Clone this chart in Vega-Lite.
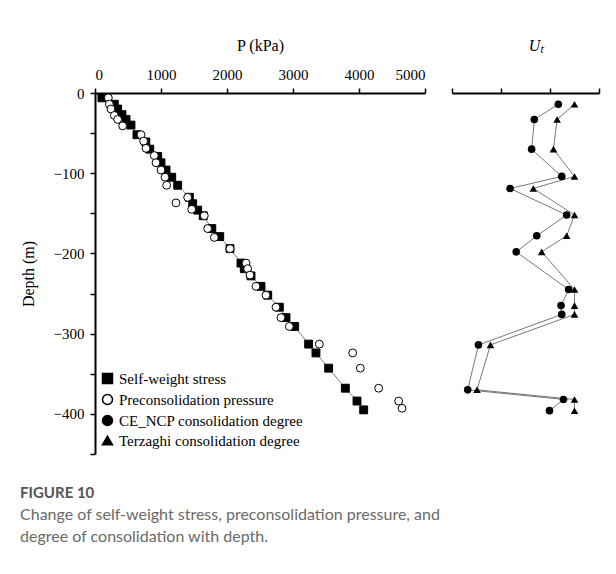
{
  "$schema": "https://vega.github.io/schema/vega-lite/v6.json",
  "background": "white",
  "padding": {"left": 20, "top": 37, "right": 5, "bottom": 10},
  "config": {
    "view": {"stroke": null},
    "axis": {
      "labelFont": "Liberation Serif", "labelFontSize": 15, "labelColor": "black",
      "titleFont": "Liberation Serif", "titleFontSize": 16, "titleFontWeight": "normal", "titleColor": "black",
      "domainColor": "black", "domainWidth": 2, "tickColor": "black", "tickWidth": 1.5, "grid": false
    },
    "legend": {
      "labelFont": "Liberation Serif", "labelFontSize": 15, "labelColor": "black", "labelLimit": 400
    }
  },
  "title": {
    "text": "FIGURE 10",
    "subtitle": ["Change of self-weight stress, preconsolidation pressure, and", "degree of consolidation with depth."],
    "orient": "bottom", "anchor": "start", "offset": 24,
    "font": "Lato", "fontSize": 15, "fontWeight": "bold", "color": "#555555",
    "subtitleFont": "Lato", "subtitleFontSize": 16, "subtitleColor": "#6a6a6a", "subtitleLineHeight": 22, "subtitlePadding": 6
  },
  "data": {"values": [
      {"series": "Self-weight stress", "depth": -6, "P": 105},
      {"series": "Self-weight stress", "depth": -14, "P": 292},
      {"series": "Self-weight stress", "depth": -20, "P": 343},
      {"series": "Self-weight stress", "depth": -27, "P": 409},
      {"series": "Self-weight stress", "depth": -33, "P": 470},
      {"series": "Self-weight stress", "depth": -40, "P": 545},
      {"series": "Self-weight stress", "depth": -52, "P": 636},
      {"series": "Self-weight stress", "depth": -61, "P": 770},
      {"series": "Self-weight stress", "depth": -70, "P": 830},
      {"series": "Self-weight stress", "depth": -79, "P": 950},
      {"series": "Self-weight stress", "depth": -87, "P": 1000},
      {"series": "Self-weight stress", "depth": -96, "P": 1076},
      {"series": "Self-weight stress", "depth": -105, "P": 1162},
      {"series": "Self-weight stress", "depth": -115, "P": 1253},
      {"series": "Self-weight stress", "depth": -130, "P": 1430},
      {"series": "Self-weight stress", "depth": -138, "P": 1480},
      {"series": "Self-weight stress", "depth": -146, "P": 1556},
      {"series": "Self-weight stress", "depth": -153, "P": 1640},
      {"series": "Self-weight stress", "depth": -169, "P": 1770},
      {"series": "Self-weight stress", "depth": -179, "P": 1890},
      {"series": "Self-weight stress", "depth": -194, "P": 2045},
      {"series": "Self-weight stress", "depth": -212, "P": 2212},
      {"series": "Self-weight stress", "depth": -219, "P": 2262},
      {"series": "Self-weight stress", "depth": -228, "P": 2364},
      {"series": "Self-weight stress", "depth": -241, "P": 2515},
      {"series": "Self-weight stress", "depth": -252, "P": 2617},
      {"series": "Self-weight stress", "depth": -267, "P": 2793},
      {"series": "Self-weight stress", "depth": -280, "P": 2894},
      {"series": "Self-weight stress", "depth": -291, "P": 3025},
      {"series": "Self-weight stress", "depth": -313, "P": 3237},
      {"series": "Self-weight stress", "depth": -324, "P": 3348},
      {"series": "Self-weight stress", "depth": -343, "P": 3540},
      {"series": "Self-weight stress", "depth": -368, "P": 3793},
      {"series": "Self-weight stress", "depth": -384, "P": 3970},
      {"series": "Self-weight stress", "depth": -395, "P": 4071},
      {"series": "Preconsolidation pressure", "depth": -6, "P": 202},
      {"series": "Preconsolidation pressure", "depth": -14, "P": 217},
      {"series": "Preconsolidation pressure", "depth": -20, "P": 242},
      {"series": "Preconsolidation pressure", "depth": -28, "P": 293},
      {"series": "Preconsolidation pressure", "depth": -33, "P": 343},
      {"series": "Preconsolidation pressure", "depth": -41, "P": 419},
      {"series": "Preconsolidation pressure", "depth": -52, "P": 697},
      {"series": "Preconsolidation pressure", "depth": -60, "P": 737},
      {"series": "Preconsolidation pressure", "depth": -69, "P": 773},
      {"series": "Preconsolidation pressure", "depth": -78, "P": 899},
      {"series": "Preconsolidation pressure", "depth": -87, "P": 924},
      {"series": "Preconsolidation pressure", "depth": -96, "P": 1000},
      {"series": "Preconsolidation pressure", "depth": -105, "P": 1061},
      {"series": "Preconsolidation pressure", "depth": -115, "P": 1086},
      {"series": "Preconsolidation pressure", "depth": -130, "P": 1404},
      {"series": "Preconsolidation pressure", "depth": -137, "P": 1227},
      {"series": "Preconsolidation pressure", "depth": -145, "P": 1465},
      {"series": "Preconsolidation pressure", "depth": -153, "P": 1656},
      {"series": "Preconsolidation pressure", "depth": -169, "P": 1707},
      {"series": "Preconsolidation pressure", "depth": -180, "P": 1808},
      {"series": "Preconsolidation pressure", "depth": -194, "P": 2045},
      {"series": "Preconsolidation pressure", "depth": -212, "P": 2288},
      {"series": "Preconsolidation pressure", "depth": -219, "P": 2313},
      {"series": "Preconsolidation pressure", "depth": -227, "P": 2348},
      {"series": "Preconsolidation pressure", "depth": -241, "P": 2439},
      {"series": "Preconsolidation pressure", "depth": -252, "P": 2591},
      {"series": "Preconsolidation pressure", "depth": -267, "P": 2742},
      {"series": "Preconsolidation pressure", "depth": -280, "P": 2818},
      {"series": "Preconsolidation pressure", "depth": -291, "P": 2944},
      {"series": "Preconsolidation pressure", "depth": -313, "P": 3399},
      {"series": "Preconsolidation pressure", "depth": -324, "P": 3904},
      {"series": "Preconsolidation pressure", "depth": -343, "P": 4020},
      {"series": "Preconsolidation pressure", "depth": -368, "P": 4298},
      {"series": "Preconsolidation pressure", "depth": -384, "P": 4601},
      {"series": "Preconsolidation pressure", "depth": -393, "P": 4652},
      {"series": "CE_NCP consolidation degree", "depth": -14, "U": 0.934},
      {"series": "CE_NCP consolidation degree", "depth": -33, "U": 0.836},
      {"series": "CE_NCP consolidation degree", "depth": -70, "U": 0.825},
      {"series": "CE_NCP consolidation degree", "depth": -104, "U": 0.948},
      {"series": "CE_NCP consolidation degree", "depth": -119, "U": 0.737},
      {"series": "CE_NCP consolidation degree", "depth": -152, "U": 0.968},
      {"series": "CE_NCP consolidation degree", "depth": -178, "U": 0.846},
      {"series": "CE_NCP consolidation degree", "depth": -198, "U": 0.762},
      {"series": "CE_NCP consolidation degree", "depth": -245, "U": 0.976},
      {"series": "CE_NCP consolidation degree", "depth": -265, "U": 0.945},
      {"series": "CE_NCP consolidation degree", "depth": -276, "U": 0.948},
      {"series": "CE_NCP consolidation degree", "depth": -314, "U": 0.608},
      {"series": "CE_NCP consolidation degree", "depth": -370, "U": 0.564},
      {"series": "CE_NCP consolidation degree", "depth": -382, "U": 0.955},
      {"series": "CE_NCP consolidation degree", "depth": -396, "U": 0.898},
      {"series": "Terzaghi consolidation degree", "depth": -14, "U": 1.0},
      {"series": "Terzaghi consolidation degree", "depth": -33, "U": 0.929},
      {"series": "Terzaghi consolidation degree", "depth": -70, "U": 0.914},
      {"series": "Terzaghi consolidation degree", "depth": -104, "U": 1.0},
      {"series": "Terzaghi consolidation degree", "depth": -119, "U": 0.832},
      {"series": "Terzaghi consolidation degree", "depth": -152, "U": 1.0},
      {"series": "Terzaghi consolidation degree", "depth": -178, "U": 0.968},
      {"series": "Terzaghi consolidation degree", "depth": -198, "U": 0.866},
      {"series": "Terzaghi consolidation degree", "depth": -245, "U": 1.0},
      {"series": "Terzaghi consolidation degree", "depth": -265, "U": 1.0},
      {"series": "Terzaghi consolidation degree", "depth": -276, "U": 1.0},
      {"series": "Terzaghi consolidation degree", "depth": -314, "U": 0.657},
      {"series": "Terzaghi consolidation degree", "depth": -370, "U": 0.602},
      {"series": "Terzaghi consolidation degree", "depth": -382, "U": 1.0},
      {"series": "Terzaghi consolidation degree", "depth": -396, "U": 1.0}
  ]},
  "spacing": 25,
  "resolve": {
    "scale": {"shape": "independent", "fill": "independent"},
    "legend": {"shape": "independent", "fill": "independent"}
  },
  "hconcat": [
    {
      "width": 330,
      "height": 361,
      "layer": [
        {
          "transform": [{"filter": "datum.series === 'Self-weight stress'"}],
          "mark": {"type": "line", "color": "#555555", "strokeWidth": 0.8},
          "encoding": {
            "x": {"field": "P", "type": "quantitative"},
            "y": {"field": "depth", "type": "quantitative"},
            "order": {"field": "depth", "type": "quantitative", "sort": "descending"}
          }
        },
        {
          "transform": [{"filter": "datum.P != null"}],
          "mark": {"type": "point", "filled": true, "opacity": 1, "stroke": "black", "strokeWidth": 1, "size": 62},
          "encoding": {
            "x": {
              "field": "P", "type": "quantitative",
              "scale": {"domain": [0, 5000], "nice": false, "zero": false},
              "axis": {
                "orient": "top", "title": "P (kPa)", "format": "d",
                "values": [0, 500, 1000, 1500, 2000, 2500, 3000, 3500, 4000, 4500, 5000],
                "labelExpr": "datum.value % 1000 === 0 ? datum.label : ''",
                "labelOverlap": false,
                "tickSize": 5, "labelPadding": 5.5, "titlePadding": 14
              }
            },
            "y": {
              "field": "depth", "type": "quantitative",
              "scale": {"domain": [-450, 0], "nice": false, "zero": false},
              "axis": {
                "title": "Depth (m)", "format": "d",
                "values": [0, -50, -100, -150, -200, -250, -300, -350, -400, -450],
                "labelExpr": "abs(datum.value) % 100 === 0 ? datum.label : ''",
                "labelOverlap": false,
                "tickSize": 5, "labelPadding": 6, "titlePadding": 17
              }
            },
            "shape": {
              "field": "series", "type": "nominal",
              "scale": {
                "domain": ["Self-weight stress", "Preconsolidation pressure", "CE_NCP consolidation degree", "Terzaghi consolidation degree"],
                "range": ["square", "circle", "circle", "triangle-up"]
              },
              "legend": {"title": null, "orient": "bottom-left", "offset": 5, "rowPadding": 4}
            },
            "fill": {
              "field": "series", "type": "nominal",
              "scale": {
                "domain": ["Self-weight stress", "Preconsolidation pressure", "CE_NCP consolidation degree", "Terzaghi consolidation degree"],
                "range": ["black", "white", "black", "black"]
              },
              "legend": {"title": null, "orient": "bottom-left", "offset": 5, "rowPadding": 4}
            }
          }
        }
      ]
    },
    {
      "width": 147,
      "height": 361,
      "layer": [
        {
          "transform": [{"filter": "datum.U != null"}],
          "mark": {"type": "line", "color": "#555555", "strokeWidth": 0.8},
          "encoding": {
            "x": {"field": "U", "type": "quantitative"},
            "y": {"field": "depth", "type": "quantitative", "axis": null},
            "detail": {"field": "series", "type": "nominal"},
            "order": {"field": "depth", "type": "quantitative", "sort": "descending"}
          }
        },
        {
          "transform": [{"filter": "datum.U != null"}],
          "mark": {"type": "point", "filled": true, "opacity": 1, "color": "black", "size": 58},
          "encoding": {
            "x": {
              "field": "U", "type": "quantitative",
              "scale": {"domain": [0.5, 1.1], "nice": false, "zero": false},
              "axis": {
                "orient": "top", "title": "Uₜ", "titleFontStyle": "italic", "titleX": 84, "titleAlign": "center",
                "values": [0.5, 0.6, 0.7, 0.8, 0.9, 1.0, 1.1],
                "labelExpr": "round(datum.value * 10) % 2 === 0 ? replace(format(datum.value, '.1f'), '.', '. ') : ''",
                "labelOverlap": false,
                "tickSize": 5, "labelPadding": 5.5, "titlePadding": 14
              }
            },
            "y": {
              "field": "depth", "type": "quantitative",
              "scale": {"domain": [-450, 0], "nice": false, "zero": false},
              "axis": null
            },
            "shape": {
              "field": "series", "type": "nominal",
              "scale": {"domain": ["CE_NCP consolidation degree", "Terzaghi consolidation degree"], "range": ["circle", "triangle-up"]},
              "legend": null
            }
          }
        }
      ]
    }
  ]
}
